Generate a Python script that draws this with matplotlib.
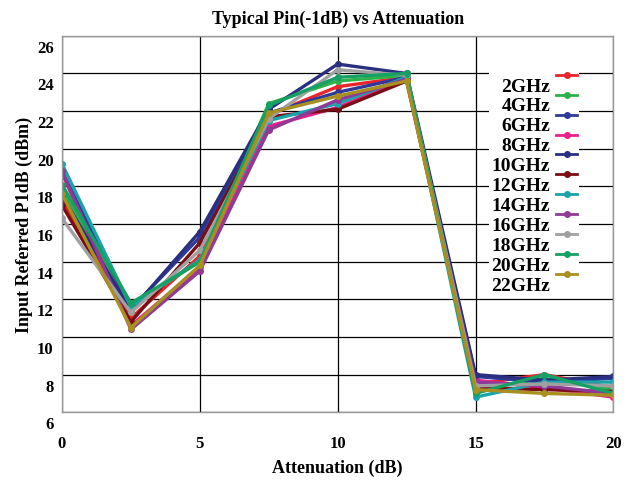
import matplotlib
matplotlib.use("Agg")
import matplotlib.pyplot as plt
import matplotlib.transforms as mtransforms

attenuation = [0, 2.5, 5, 7.5, 10, 12.5, 15, 17.5, 20]
labels = ["2GHz", "4GHz", "6GHz", "8GHz", "10GHz", "12GHz", "14GHz",
          "16GHz", "18GHz", "20GHz", "22GHz"]
colors = ["#e8262b", "#2eb04a", "#2e3a9a", "#e8208a", "#2b2f80", "#7a0e16",
          "#1aa3a8", "#8e3a96", "#a0a0a0", "#16a064", "#a89020"]

p_2ghz = [17.3, 11.0, 14.3, 21.8, 23.3, 23.8, 7.5, 8.0, 7.3]
p_4ghz = [17.8, 11.7, 14.0, 22.4, 23.6, 23.9, 7.2, 7.8, 7.2]
p_6ghz = [18.8, 11.5, 15.3, 21.9, 23.0, 23.8, 7.9, 7.6, 7.8]
p_8ghz = [18.7, 10.6, 13.7, 21.2, 22.2, 23.7, 7.7, 7.3, 6.8]
p_10ghz = [17.5, 11.4, 15.6, 22.1, 24.5, 24.0, 8.0, 7.7, 7.9]
p_12ghz = [17.0, 10.8, 15.0, 21.7, 22.1, 23.6, 7.3, 7.2, 7.1]
p_14ghz = [19.2, 11.6, 14.1, 21.5, 22.4, 23.8, 6.8, 7.6, 7.6]
p_16ghz = [18.8, 10.4, 13.5, 21.0, 22.6, 23.7, 7.6, 7.4, 7.0]
p_18ghz = [16.3, 11.3, 14.6, 21.6, 24.2, 23.9, 7.4, 7.5, 7.4]
p_20ghz = [18.1, 11.8, 14.0, 22.3, 23.8, 24.0, 7.0, 8.0, 7.0]
p_22ghz = [17.6, 10.5, 13.8, 21.9, 22.8, 23.6, 7.2, 7.0, 6.9]
series = [p_2ghz, p_4ghz, p_6ghz, p_8ghz, p_10ghz, p_12ghz, p_14ghz,
          p_16ghz, p_18ghz, p_20ghz, p_22ghz]

xticks = [0, 5, 10, 15, 20]
yticks = [6, 8, 10, 12, 14, 16, 18, 20, 22, 24, 26]

plt.rcParams['font.family'] = ['Liberation Serif', 'DejaVu Serif']
plt.rcParams['font.weight'] = 'bold'

fig = plt.figure(figsize=(6.28, 4.85), dpi=100)
ax = fig.add_axes([0.0987, 0.148, 0.878, 0.776])

for vals, lab, col in zip(series, labels, colors):
    ax.plot(attenuation, vals, color=col, lw=2.4, marker='o', ms=4, label=lab)

ax.set_xlim(0, 20)
ax.set_ylim(6, 26)
ax.set_xticks(xticks)
ax.set_yticks(yticks)
ax.set_xticklabels([str(t) for t in xticks], fontsize=12, fontweight='bold')
ax.set_yticklabels([str(t) for t in yticks], fontsize=12, fontweight='bold')
ax.tick_params(length=0, pad=6)
ax.grid(True, color='black', lw=0.9)
ax.set_axisbelow(True)
for s in ax.spines.values():
    s.set_color('#999999')
    s.set_linewidth(1.0)

off = mtransforms.ScaledTranslation(0, -7.2 / 72, fig.dpi_scale_trans)
for lbl in ax.get_yticklabels():
    lbl.set_transform(lbl.get_transform() + off)
offx = mtransforms.ScaledTranslation(0, -10.4 / 72, fig.dpi_scale_trans)
for lbl in ax.get_xticklabels():
    lbl.set_transform(lbl.get_transform() + offx)

ax.set_title("Typical Pin(-1dB) vs Attenuation", fontsize=13, fontweight='bold', pad=9)
ax.set_xlabel("Attenuation (dB)", fontsize=13, fontweight='bold', labelpad=5.5)
ax.set_ylabel("Input Referred P1dB (dBm)", fontsize=13, fontweight='bold', labelpad=3)

leg = ax.legend(loc='upper left', bbox_to_anchor=(0.775, 0.92), markerfirst=False,
                frameon=True, framealpha=1, edgecolor='none', facecolor='white',
                fontsize=14, labelspacing=0.12, handlelength=1.1, handletextpad=0.3,
                borderpad=0.1, borderaxespad=0, alignment='right')
for t in leg.get_texts():
    t.set_ha('right')
    t.set_y(-9)
for h in leg.legend_handles:
    h.set_linewidth(2)
    h.set_markersize(4)

fig.savefig("out.png", dpi=100)
